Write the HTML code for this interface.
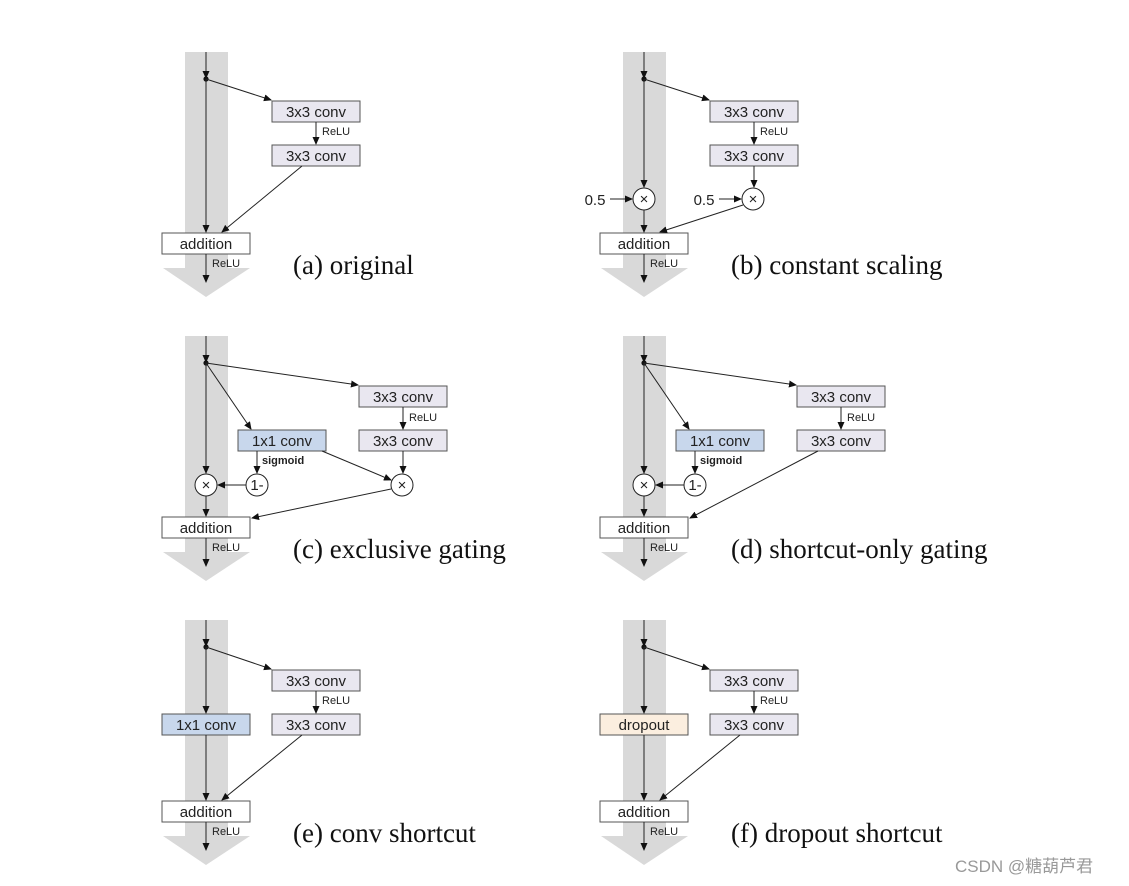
<!DOCTYPE html>
<html><head><meta charset="utf-8"><style>
html,body{margin:0;padding:0;background:#fff}
svg{display:block}
.bx{stroke:#555;stroke-width:1}
.t{font-family:"Liberation Sans",sans-serif;font-size:15px;fill:#222;text-anchor:middle}
.r{font-family:"Liberation Sans",sans-serif;font-size:11px;fill:#222}
.s{font-family:"Liberation Sans",sans-serif;font-size:11px;font-weight:bold;fill:#222}
.c{font-family:"Liberation Serif",serif;font-size:27px;fill:#111}
.l{stroke:#222;stroke-width:1;fill:none}
.ci{fill:#fff;stroke:#222;stroke-width:1}
.o{font-family:"Liberation Sans",sans-serif;font-size:15px;fill:#222;text-anchor:middle}
</style></head><body>
<svg width="1129" height="886" viewBox="0 0 1129 886" xmlns="http://www.w3.org/2000/svg">
<defs>
<marker id="a" markerWidth="8" markerHeight="8" refX="7" refY="4" orient="auto" markerUnits="userSpaceOnUse">
<path d="M0,0.5 L8,4 L0,7.5 Z" fill="#111"/></marker>
<g id="band">
<rect x="185" y="52" width="43" height="216" fill="#d9d9d9"/>
<polygon points="163,268 250,268 206,297" fill="#d9d9d9"/>
</g>
<g id="add">
<rect class="bx" x="162" y="233" width="88" height="21" fill="#fff"/>
<text class="t" x="206" y="249">addition</text>
<line class="l" x1="206" y1="254" x2="206" y2="282" marker-end="url(#a)"/>
<text class="r" x="212" y="267">ReLU</text>
<line class="l" x1="206" y1="52" x2="206" y2="78" marker-end="url(#a)"/>
<circle cx="206" cy="79" r="2.6" fill="#111"/>
</g>
</defs>

<!-- (a) -->
<g>
<use href="#band"/><use href="#add"/>
<line class="l" x1="206" y1="79" x2="206" y2="232" marker-end="url(#a)"/>
<line class="l" x1="206" y1="79" x2="271" y2="100" marker-end="url(#a)"/>
<rect class="bx" x="272" y="101" width="88" height="21" fill="#e9e7f0"/>
<text class="t" x="316" y="117">3x3 conv</text>
<line class="l" x1="316" y1="122" x2="316" y2="144" marker-end="url(#a)"/>
<text class="r" x="322" y="135">ReLU</text>
<rect class="bx" x="272" y="145" width="88" height="21" fill="#e9e7f0"/>
<text class="t" x="316" y="161">3x3 conv</text>
<line class="l" x1="302" y1="166" x2="222" y2="232" marker-end="url(#a)"/>
<text class="c" x="293" y="274">(a) original</text>
</g>

<!-- (b) -->
<g transform="translate(438,0)">
<use href="#band"/><use href="#add"/>
<line class="l" x1="206" y1="79" x2="206" y2="187" marker-end="url(#a)"/>
<circle class="ci" cx="206" cy="199" r="11"/><text class="o" x="206" y="204">×</text>
<line class="l" x1="206" y1="210" x2="206" y2="232" marker-end="url(#a)"/>
<text class="o" x="157" y="205">0.5</text>
<line class="l" x1="172" y1="199" x2="194" y2="199" marker-end="url(#a)"/>
<line class="l" x1="206" y1="79" x2="271" y2="100" marker-end="url(#a)"/>
<rect class="bx" x="272" y="101" width="88" height="21" fill="#e9e7f0"/>
<text class="t" x="316" y="117">3x3 conv</text>
<line class="l" x1="316" y1="122" x2="316" y2="144" marker-end="url(#a)"/>
<text class="r" x="322" y="135">ReLU</text>
<rect class="bx" x="272" y="145" width="88" height="21" fill="#e9e7f0"/>
<text class="t" x="316" y="161">3x3 conv</text>
<line class="l" x1="316" y1="166" x2="316" y2="187" marker-end="url(#a)"/>
<circle class="ci" cx="315" cy="199" r="11"/><text class="o" x="315" y="204">×</text>
<text class="o" x="266" y="205">0.5</text>
<line class="l" x1="281" y1="199" x2="303" y2="199" marker-end="url(#a)"/>
<line class="l" x1="305" y1="205" x2="222" y2="232" marker-end="url(#a)"/>
<text class="c" x="293" y="274">(b) constant scaling</text>
</g>

<!-- (c) -->
<g transform="translate(0,284)">
<use href="#band"/><use href="#add"/>
<line class="l" x1="206" y1="79" x2="206" y2="189" marker-end="url(#a)"/>
<circle class="ci" cx="206" cy="201" r="11"/><text class="o" x="206" y="206">×</text>
<line class="l" x1="206" y1="212" x2="206" y2="232" marker-end="url(#a)"/>
<line class="l" x1="206" y1="79" x2="358" y2="101" marker-end="url(#a)"/>
<rect class="bx" x="359" y="102" width="88" height="21" fill="#e9e7f0"/>
<text class="t" x="403" y="118">3x3 conv</text>
<line class="l" x1="403" y1="123" x2="403" y2="145" marker-end="url(#a)"/>
<text class="r" x="409" y="137">ReLU</text>
<rect class="bx" x="359" y="146" width="88" height="21" fill="#e9e7f0"/>
<text class="t" x="403" y="162">3x3 conv</text>
<line class="l" x1="403" y1="167" x2="403" y2="189" marker-end="url(#a)"/>
<circle class="ci" cx="402" cy="201" r="11"/><text class="o" x="402" y="206">×</text>
<line class="l" x1="206" y1="79" x2="251" y2="145" marker-end="url(#a)"/>
<rect class="bx" x="238" y="146" width="88" height="21" fill="#c8d7ec"/>
<text class="t" x="282" y="162">1x1 conv</text>
<line class="l" x1="257" y1="167" x2="257" y2="189" marker-end="url(#a)"/>
<text class="s" x="262" y="180">sigmoid</text>
<circle class="ci" cx="257" cy="201" r="11"/><text class="o" x="257" y="206">1-</text>
<line class="l" x1="246" y1="201" x2="218" y2="201" marker-end="url(#a)"/>
<line class="l" x1="322" y1="167" x2="391" y2="196" marker-end="url(#a)"/>
<line class="l" x1="391" y1="205" x2="252" y2="234" marker-end="url(#a)"/>
<text class="c" x="293" y="274">(c) exclusive gating</text>
</g>

<!-- (d) -->
<g transform="translate(438,284)">
<use href="#band"/><use href="#add"/>
<line class="l" x1="206" y1="79" x2="206" y2="189" marker-end="url(#a)"/>
<circle class="ci" cx="206" cy="201" r="11"/><text class="o" x="206" y="206">×</text>
<line class="l" x1="206" y1="212" x2="206" y2="232" marker-end="url(#a)"/>
<line class="l" x1="206" y1="79" x2="358" y2="101" marker-end="url(#a)"/>
<rect class="bx" x="359" y="102" width="88" height="21" fill="#e9e7f0"/>
<text class="t" x="403" y="118">3x3 conv</text>
<line class="l" x1="403" y1="123" x2="403" y2="145" marker-end="url(#a)"/>
<text class="r" x="409" y="137">ReLU</text>
<rect class="bx" x="359" y="146" width="88" height="21" fill="#e9e7f0"/>
<text class="t" x="403" y="162">3x3 conv</text>
<line class="l" x1="206" y1="79" x2="251" y2="145" marker-end="url(#a)"/>
<rect class="bx" x="238" y="146" width="88" height="21" fill="#c8d7ec"/>
<text class="t" x="282" y="162">1x1 conv</text>
<line class="l" x1="257" y1="167" x2="257" y2="189" marker-end="url(#a)"/>
<text class="s" x="262" y="180">sigmoid</text>
<circle class="ci" cx="257" cy="201" r="11"/><text class="o" x="257" y="206">1-</text>
<line class="l" x1="246" y1="201" x2="218" y2="201" marker-end="url(#a)"/>
<line class="l" x1="380" y1="167" x2="252" y2="234" marker-end="url(#a)"/>
<text class="c" x="293" y="274">(d) shortcut-only gating</text>
</g>

<!-- (e) -->
<g transform="translate(0,568)">
<use href="#band"/><use href="#add"/>
<line class="l" x1="206" y1="79" x2="206" y2="145" marker-end="url(#a)"/>
<rect class="bx" x="162" y="146" width="88" height="21" fill="#c8d7ec"/>
<text class="t" x="206" y="162">1x1 conv</text>
<line class="l" x1="206" y1="167" x2="206" y2="232" marker-end="url(#a)"/>
<line class="l" x1="206" y1="79" x2="271" y2="101" marker-end="url(#a)"/>
<rect class="bx" x="272" y="102" width="88" height="21" fill="#e9e7f0"/>
<text class="t" x="316" y="118">3x3 conv</text>
<line class="l" x1="316" y1="123" x2="316" y2="145" marker-end="url(#a)"/>
<text class="r" x="322" y="136">ReLU</text>
<rect class="bx" x="272" y="146" width="88" height="21" fill="#e9e7f0"/>
<text class="t" x="316" y="162">3x3 conv</text>
<line class="l" x1="302" y1="167" x2="222" y2="232" marker-end="url(#a)"/>
<text class="c" x="293" y="274">(e) conv shortcut</text>
</g>

<!-- (f) -->
<g transform="translate(438,568)">
<use href="#band"/><use href="#add"/>
<line class="l" x1="206" y1="79" x2="206" y2="145" marker-end="url(#a)"/>
<rect class="bx" x="162" y="146" width="88" height="21" fill="#fbeedf"/>
<text class="t" x="206" y="162">dropout</text>
<line class="l" x1="206" y1="167" x2="206" y2="232" marker-end="url(#a)"/>
<line class="l" x1="206" y1="79" x2="271" y2="101" marker-end="url(#a)"/>
<rect class="bx" x="272" y="102" width="88" height="21" fill="#e9e7f0"/>
<text class="t" x="316" y="118">3x3 conv</text>
<line class="l" x1="316" y1="123" x2="316" y2="145" marker-end="url(#a)"/>
<text class="r" x="322" y="136">ReLU</text>
<rect class="bx" x="272" y="146" width="88" height="21" fill="#e9e7f0"/>
<text class="t" x="316" y="162">3x3 conv</text>
<line class="l" x1="302" y1="167" x2="222" y2="232" marker-end="url(#a)"/>
<text class="c" x="293" y="274">(f) dropout shortcut</text>
</g>

<text x="955" y="872" style="font-family:'Liberation Sans','Noto Sans CJK SC',sans-serif;font-size:17px;fill:#999">CSDN @糖葫芦君</text>
</svg>
</body></html>
